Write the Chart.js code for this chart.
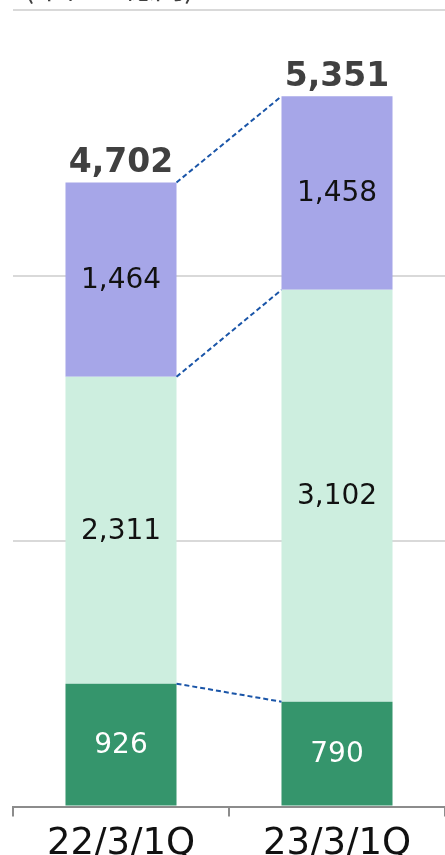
<!DOCTYPE html>
<html>
<head>
<meta charset="utf-8">
<script src="https://cdn.jsdelivr.net/npm/chart.js@4"></script>
<style>
  html, body { margin: 0; padding: 0; background: #fff; overflow: hidden; }
  #wrap { position: relative; width: 445px; height: 873px; }
  #unit { position: absolute; left: 24px; top: -37px; font: 30px "Noto Sans CJK JP", sans-serif; color: #404040; white-space: nowrap; }
</style>
</head>
<body>
<div id="wrap">
  <canvas id="chart" width="445" height="873"></canvas>
  <div id="unit">(単位：億円)</div>
</div>
<script>
// kategori (kuartal)
const categories = ["22/3/1Q", "23/3/1Q"];

// nilai tiap segmen, dari bawah ke atas
const seriesBottom = [926, 790];
const seriesMiddle = [2311, 3102];
const seriesTop = [1464, 1458];
const totals = [4702, 5351];

// warna segmen
const colorBottom = '#35956c';
const colorMiddle = '#cdeedf';
const colorTop = '#a6a6e8';

const fmt = v => v.toLocaleString('en-US');

// plugin: garis putus-putus antar bar + label angka
const labelPlugin = {
    id: 'labelPlugin',
    afterDatasetsDraw(chart) {
        const ctx = chart.ctx;
        ctx.save();

        // garis penghubung puncak tiap segmen
        ctx.strokeStyle = '#1a55a8';
        ctx.lineWidth = 2;
        ctx.setLineDash([5, 3]);
        chart.data.datasets.forEach((ds, i) => {
            const bars = chart.getDatasetMeta(i).data;
            const a = bars[0], b = bars[1];
            ctx.beginPath();
            ctx.moveTo(a.x + a.width / 2, a.y);
            ctx.lineTo(b.x - b.width / 2, b.y);
            ctx.stroke();
        });
        ctx.setLineDash([]);

        // label di tengah segmen
        ctx.textAlign = 'center';
        ctx.textBaseline = 'middle';
        ctx.font = '28px "DejaVu Sans"';
        chart.data.datasets.forEach((ds, i) => {
            const bars = chart.getDatasetMeta(i).data;
            bars.forEach((bar, j) => {
                ctx.fillStyle = i === 0 ? '#ffffff' : '#111111';
                ctx.fillText(fmt(ds.data[j]), bar.x, (bar.y + bar.base) / 2 + 1);
            });
        });

        // total di atas bar
        const topBars = chart.getDatasetMeta(chart.data.datasets.length - 1).data;
        ctx.font = 'bold 33px "DejaVu Sans"';
        ctx.fillStyle = '#404040';
        ctx.textBaseline = 'alphabetic';
        topBars.forEach((bar, j) => {
            ctx.fillText(fmt(totals[j]), bar.x, bar.y - 10);
        });
        ctx.restore();
    }
};

const ctx = document.getElementById('chart').getContext('2d');
new Chart(ctx, {
    type: 'bar',
    data: {
        labels: categories,
        datasets: [
            { data: seriesBottom, backgroundColor: colorBottom },
            { data: seriesMiddle, backgroundColor: colorMiddle },
            { data: seriesTop, backgroundColor: colorTop }
        ]
    },
    options: {
        responsive: false,
        animation: false,
        events: [],
        layout: { padding: { left: 13, top: 10, right: 0, bottom: 0 } },
        datasets: { bar: { categoryPercentage: 1, barPercentage: 0.514 } },
        plugins: { legend: { display: false }, tooltip: { enabled: false } },
        scales: {
            x: {
                stacked: true,
                grid: { drawOnChartArea: false, drawTicks: true, tickLength: 10, color: '#8c8c8c', lineWidth: 2 },
                border: { color: '#8c8c8c', width: 2 },
                ticks: { color: '#111111', font: { family: 'DejaVu Sans', size: 37 }, padding: 6 }
            },
            y: {
                stacked: true,
                min: 0,
                max: 6000,
                ticks: { display: false, stepSize: 2000 },
                grid: { color: '#d9d9d9', lineWidth: 2, drawTicks: false },
                border: { display: false }
            }
        }
    },
    plugins: [labelPlugin]
});
</script>
</body>
</html>
